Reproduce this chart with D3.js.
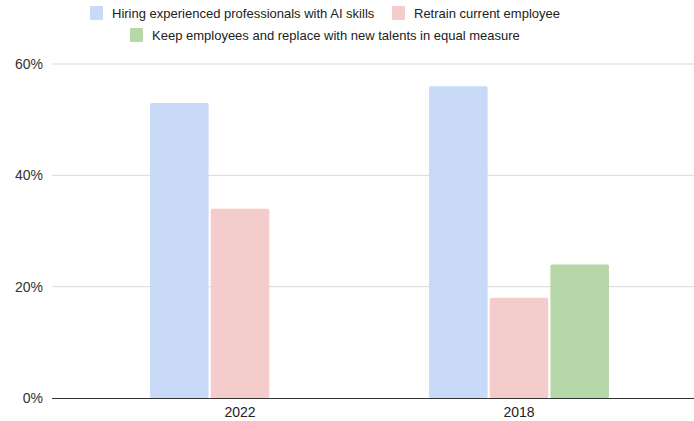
<!DOCTYPE html>
<html><head><meta charset="utf-8">
<script src="https://cdn.jsdelivr.net/npm/d3@7"></script>
<style>body{margin:0;background:#fff;}svg{display:block;font-family:"Liberation Sans",Arial,sans-serif;}</style>
</head><body><svg id="c" width="694" height="421"></svg>
<script>
const categories = ["2022", "2018"];
const seriesNames = ["Hiring experienced professionals with AI skills", "Retrain current employee", "Keep employees and replace with new talents in equal measure"];
const hiring = [53, 56];
const retrain = [34, 18];
const keep = [null, 24];
const yTicks = [0, 20, 40, 60];
const colors = ["#c9daf8", "#f4cccc", "#b6d7a8"];

const svg = d3.select("#c");
const plotL = 52, plotR = 694, y0 = 398, yTop = 64;
const y = d3.scaleLinear().domain([0, 60]).range([y0, yTop]);
const x = d3.scaleBand().domain(categories).range([100.5, 658.5]).paddingInner(0.355).paddingOuter(0.1775);
const xs = d3.scaleBand().domain(d3.range(3)).range([0, x.bandwidth()]).paddingInner(0.035);

// gridlines
svg.append("g").selectAll("line").data(yTicks.filter(t => t > 0)).join("line")
  .attr("x1", plotL).attr("x2", plotR).attr("y1", d => y(d)).attr("y2", d => y(d))
  .attr("stroke", "#d9d9d9").attr("stroke-width", 1);

// y labels
svg.append("g").selectAll("text").data(yTicks).join("text")
  .attr("x", 43).attr("y", d => y(d)).attr("dy", "0.35em").attr("text-anchor", "end")
  .attr("font-size", 14).attr("fill", "#333").text(d => d + "%");

// bars
const series = [hiring, retrain, keep];
categories.forEach((c, ci) => {
  series.forEach((s, si) => {
    const v = s[ci];
    if (v == null) return;
    svg.append("rect")
      .attr("x", x(c) + xs(si)).attr("width", xs.bandwidth())
      .attr("y", y(v)).attr("height", y(0) - y(v))
      .attr("rx", 1.5).attr("fill", colors[si]);
  });
});

// baseline
svg.append("line").attr("x1", plotL).attr("x2", plotR).attr("y1", y0 + 0.5).attr("y2", y0 + 0.5)
  .attr("stroke", "#333").attr("stroke-width", 1);

// x labels
svg.append("g").selectAll("text").data(categories).join("text")
  .attr("x", d => x(d) + x.bandwidth() / 2).attr("y", 417).attr("text-anchor", "middle")
  .attr("font-size", 14).attr("fill", "#222").text(d => d);

// legend
const legendPos = [[90, 6], [392, 6], [130, 28]];
seriesNames.forEach((n, i) => {
  const [lx, ly] = legendPos[i];
  svg.append("rect").attr("x", lx).attr("y", ly).attr("width", 13).attr("height", 14).attr("rx", 1).attr("fill", colors[i]);
  svg.append("text").attr("x", lx + 22).attr("y", ly + 7).attr("dy", "0.35em")
    .attr("font-size", 13).attr("fill", "#222").text(n);
});
</script></body></html>
